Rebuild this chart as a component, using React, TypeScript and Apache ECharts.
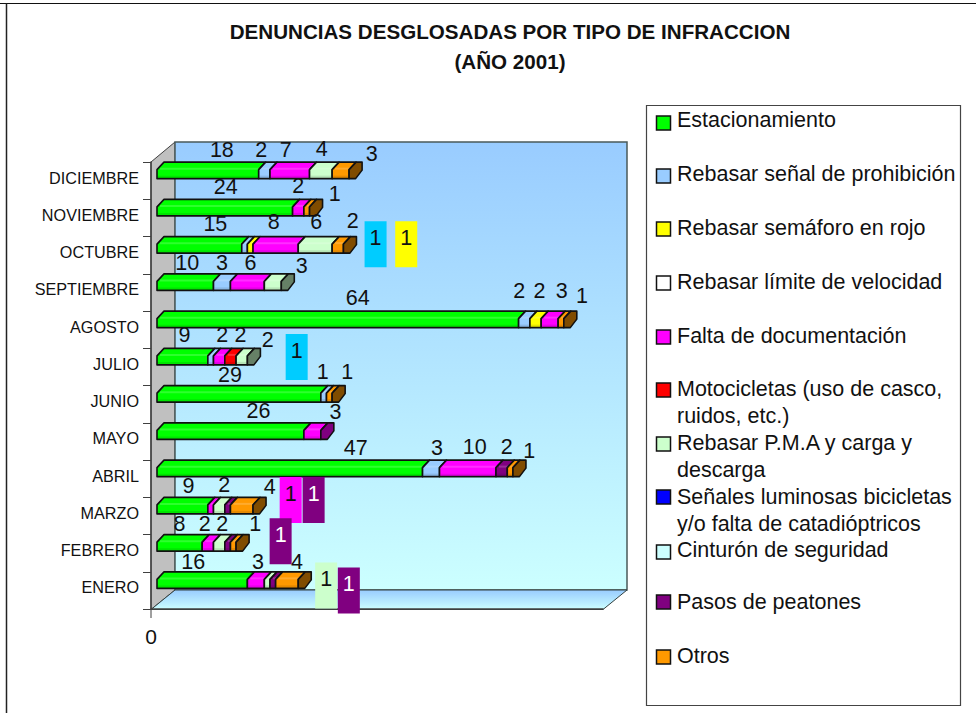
import React, { useEffect, useRef } from "react";
import * as echarts from "echarts";

const months = ["ENERO", "FEBRERO", "MARZO", "ABRIL", "MAYO", "JUNIO", "JULIO", "AGOSTO", "SEPTIEMBRE", "OCTUBRE", "NOVIEMBRE", "DICIEMBRE"];
const seriesNames = [
  "Estacionamiento",
  "Rebasar señal de prohibición",
  "Rebasar semáforo en rojo",
  "Rebasar límite de velocidad",
  "Falta de documentación",
  "Motocicletas (uso de casco,\nruidos, etc.)",
  "Rebasar P.M.A y carga y\ndescarga",
  "Señales luminosas bicicletas\ny/o falta de catadióptricos",
  "Cinturón de seguridad",
  "Pasos de peatones",
  "Otros",
];
const estacionamiento = [16, 8, 9, 47, 26, 29, 9, 64, 10, 15, 24, 18];
const senal = [0, 0, 0, 3, 0, 1, 1, 2, 3, 1, 0, 2];
const semaforo = [0, 0, 0, 0, 0, 0, 0, 2, 0, 1, 0, 0];
const limite = [0, 0, 0, 0, 0, 0, 0, 0, 0, 0, 0, 0];
const falta = [3, 2, 1, 10, 3, 0, 2, 3, 6, 8, 2, 7];
const motos = [0, 0, 0, 0, 0, 0, 2, 0, 0, 0, 0, 0];
const pma = [1, 2, 2, 0, 0, 0, 2, 0, 3, 6, 0, 4];
const luminosas = [0, 0, 0, 0, 0, 0, 0, 0, 0, 0, 0, 0];
const cinturon = [0, 0, 0, 0, 0, 0, 0, 0, 0, 0, 0, 0];
const pasos = [1, 1, 1, 2, 0, 0, 0, 0, 0, 0, 0, 0];
const otros = [4, 1, 4, 1, 0, 1, 0, 1, 0, 2, 1, 3];
const allSeries = [estacionamiento, senal, semaforo, limite, falta, motos, pma, luminosas, cinturon, pasos, otros];

const colors = ["#00FF00", "#99CCFF", "#FFFF00", "#FFFFFF", "#FF00FF", "#FF0000", "#CCFFCC", "#0000FF", "#CCFFFF", "#800080", "#FF9900"];
const capColors = ["#008000", "#668099", "#808000", "#808080", "#800080", "#800000", "#668066", "#000080", "#668080", "#400040", "#804C00"];
const legendTextY = [120, 174, 228, 282, 336, 389, 443, 497, 550, 602, 656];
const legendSwatchY = [123, 176, 229, 283, 337, 390, 444, 497, 552, 602, 657];

// label placement: [dx, dy] from the segment centre / category centre, by month and series index
const labelNudges: Record<number, Record<number, [number, number]>> = {
  0: { 0: [-3, -28], 4: [8, -28], 6: [65, -11], 9: [82, -6], 10: [16, -28] },
  1: { 0: [6, -29], 4: [3, -29], 6: [9, -29], 9: [59, -18], 10: [28, -29] },
  2: { 0: [12, -30], 4: [86, -22], 6: [11, -31], 9: [92, -22], 10: [34, -29] },
  3: { 0: [72, -31], 1: [12, -31], 4: [13, -32], 9: [11, -32], 10: [25, -28] },
  4: { 0: [34, -30], 4: [29, -29] },
  5: { 0: [-3, -29], 1: [5, -32], 10: [24, -32] },
  6: { 0: [8, -32], 1: [92, -16], 4: [9, -32], 5: [16, -32], 6: [32, -27] },
  7: { 0: [26, -32], 1: [1, -39], 2: [10, -39], 4: [18, -39], 10: [27, -34] },
  8: { 0: [8, -29], 1: [6, -29], 4: [9, -29], 6: [35, -26] },
  9: { 0: [22, -31], 1: [137, -17], 2: [162, -17], 4: [4, -33], 6: [7, -33], 10: [21, -34] },
  10: { 0: [7, -31], 4: [6, -32], 10: [34, -24] },
  11: { 0: [20, -31], 1: [3, -31], 4: [2, -31], 6: [7, -32], 10: [37, -27] },
};
// labels drawn on a coloured box: month index -> series index -> box colour
const boxedLabels: Record<number, Record<number, string>> = {
  0: { 6: "#CCFFCC", 9: "#800080" },
  1: { 9: "#800080" },
  2: { 4: "#FF00FF", 9: "#800080" },
  6: { 1: "#00CCFF" },
  9: { 1: "#00CCFF", 2: "#FFFF00" },
};

const FONT = '"Liberation Sans", Arial, sans-serif';
const BAR_SHIFT = 6;

function lastSeriesOf(m: number) {
  let last = -1;
  allSeries.forEach((s, i) => {
    if (s[m] > 0) last = i;
  });
  return last;
}

function makeSeries(si: number) {
  const values = allSeries[si];
  const data: number[][] = [];
  values.forEach((v, m) => {
    if (v > 0) {
      let start = 0;
      for (let k = 0; k < si; k++) start += allSeries[k][m];
      data.push([m, start, start + v, v]);
    }
  });
  return {
    type: "custom",
    name: seriesNames[si],
    coordinateSystem: "cartesian2d",
    encode: { x: [1, 2], y: 0 },
    data,
    clip: false,
    renderItem: (_p: any, api: any) => {
      const m = api.value(0);
      const a = api.coord([api.value(1), m]);
      const b = api.coord([api.value(2), m]);
      const x0 = a[0] + BAR_SHIFT;
      const x1 = b[0] + BAR_SHIFT;
      const c = a[1];
      const yt = c - 18.5;
      const ym = c - 11;
      const yb = c - 2;
      const stroke = { stroke: "#111111", lineWidth: 1.6, lineJoin: "round" };
      const children: any[] = [
        {
          type: "polygon",
          shape: { points: [[x0, yb], [x0, ym], [x0 + 7, yt], [x1 + 7, yt], [x1, ym], [x1, yb]] },
          style: { fill: colors[si], ...stroke },
        },
        {
          type: "line",
          shape: { x1: x0 + 3, y1: ym - 1, x2: x1 + 1, y2: ym - 1 },
          style: { stroke: "rgba(255,255,255,0.18)", lineWidth: 2 },
        },
        {
          type: "rect",
          shape: { x: x0 + 1, y: yb - 3, width: Math.max(x1 - x0 - 2, 0), height: 2.2 },
          style: { fill: "rgba(0,0,0,0.1)" },
        },
      ];
      if (lastSeriesOf(m) === si) {
        children.push({
          type: "polygon",
          shape: { points: [[x1, yb], [x1, ym], [x1 + 7, yt], [x1 + 13, yt], [x1 + 13, yt + 8], [x1 + 6.5, yb]] },
          style: { fill: capColors[si], ...stroke },
        });
      }
      const nudge = labelNudges[m]?.[si] ?? [0, -30];
      const lx = (a[0] + b[0]) / 2 + nudge[0];
      const ly = c + nudge[1];
      const box = boxedLabels[m]?.[si];
      if (box) {
        children.push({
          type: "rect",
          z2: 10,
          shape: { x: lx - 11, y: ly - 17, width: 22, height: 46 },
          style: { fill: box },
        });
      }
      children.push({
        type: "text",
        z2: 11,
        style: {
          x: lx,
          y: ly,
          text: String(api.value(3)),
          fill: box === "#800080" ? "#FFFFFF" : "#111111",
          font: `21.5px ${FONT}`,
          align: "center",
          verticalAlign: "middle",
        },
      });
      return { type: "group", children };
    },
  };
}

function decorations() {
  const wallFill = {
    type: "linear",
    x: 0,
    y: 0,
    x2: 0,
    y2: 1,
    colorStops: [
      { offset: 0, color: "#99CCFF" },
      { offset: 1, color: "#CCFFFF" },
    ],
  };
  const items: any[] = [
    { type: "line", z: 0, shape: { x1: 0, y1: 3.5, x2: 976, y2: 3.5 }, style: { stroke: "#111111", lineWidth: 1.2 } },
    { type: "line", z: 0, shape: { x1: 6.5, y1: 3.5, x2: 6.5, y2: 713 }, style: { stroke: "#222222", lineWidth: 1.5 } },
    {
      type: "polygon",
      z: 0,
      shape: { points: [[151, 609.5], [175, 590], [175, 142], [151, 162]] },
      style: { fill: "#C0C0C0", stroke: "#404040", lineWidth: 1 },
    },
    {
      type: "rect",
      z: 0,
      shape: { x: 175, y: 142, width: 452, height: 448 },
      style: { fill: wallFill, stroke: "#4A5A5A", lineWidth: 1.5 },
    },
    {
      type: "polygon",
      z: 0,
      shape: { points: [[151, 609.5], [175, 590], [627, 590], [603, 609.5]] },
      style: { fill: wallFill, stroke: "#33403F", lineWidth: 1 },
    },
    {
      type: "rect",
      z: 0,
      shape: { x: 646.5, y: 105.5, width: 314, height: 600 },
      style: { fill: "#FFFFFF", stroke: "#444444", lineWidth: 1.2 },
    },
  ];
  seriesNames.forEach((name, i) => {
    items.push({
      type: "rect",
      z: 1,
      shape: { x: 656.5, y: legendSwatchY[i] - 7, width: 14, height: 14 },
      style: { fill: colors[i], stroke: "#111111", lineWidth: 1.5 },
    });
    items.push({
      type: "text",
      z: 1,
      x: 677,
      y: legendTextY[i] - 13.5,
      style: { text: name, fill: "#111111", font: `21.5px ${FONT}`, lineHeight: 27, align: "left", verticalAlign: "top" },
    });
  });
  return items;
}

export default function App() {
  const ref = useRef<HTMLDivElement>(null);
  useEffect(() => {
    document.body.style.margin = "0";
    const chart = echarts.init(ref.current!, undefined, { renderer: "svg" });
    chart.setOption({
      animation: false,
      backgroundColor: "#FFFFFF",
      title: {
        text: "DENUNCIAS DESGLOSADAS POR TIPO DE INFRACCION\n(AÑO 2001)",
        left: 505,
        top: 11,
        textAlign: "center",
        textStyle: { fontFamily: FONT, fontSize: 20.6, fontWeight: "bold", color: "#111111", lineHeight: 30 },
      },
      grid: { left: 151, top: 162, width: 452, height: 447, containLabel: false },
      xAxis: {
        type: "value",
        min: 0,
        max: 80,
        interval: 80,
        splitLine: { show: false },
        axisLine: { show: true, onZero: false, lineStyle: { color: "#404040", width: 1.5 } },
        axisTick: { show: false },
        axisLabel: {
          margin: 17,
          fontFamily: FONT,
          fontSize: 21,
          color: "#111111",
          formatter: (v: number) => (v === 0 ? "0" : ""),
        },
      },
      yAxis: {
        type: "category",
        data: months,
        axisLine: { show: true, onZero: false, lineStyle: { color: "#404040", width: 1.5 } },
        axisTick: { show: true, length: 8, lineStyle: { color: "#404040" } },
        axisLabel: { margin: 12, fontFamily: FONT, fontSize: 16.2, color: "#111111", verticalAlign: "bottom", lineHeight: 6 },
      },
      graphic: { elements: [
        ...decorations(),
        { type: "line", z: 1, shape: { x1: 151, y1: 609, x2: 151, y2: 618 }, style: { stroke: "#404040", lineWidth: 1 } },
      ] },
      series: allSeries.map((_, i) => makeSeries(i)),
    });
    return () => chart.dispose();
  }, []);
  return <div ref={ref} style={{ position: "fixed", left: 0, top: 0, width: 976, height: 713 }} />;
}
